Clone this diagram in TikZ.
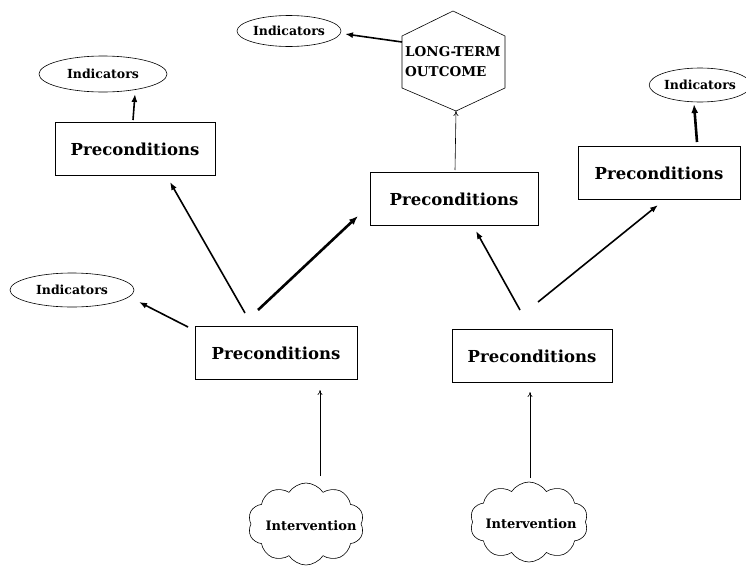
\documentclass[tikz,border=0pt]{standalone}
\usepackage{fontspec}
\setmainfont{DejaVu Serif}
\usetikzlibrary{shapes.geometric,shapes.symbols,arrows.meta}
\begin{document}
\begin{tikzpicture}[x=1pt,y=-1pt,
  pbox/.style={draw,line width=0.8pt,minimum width=#1,minimum height=53pt,font=\fontsize{16.5}{18}\selectfont\bfseries,inner sep=0pt},
  ind/.style={draw,ellipse,line width=0.6pt,font=\fontsize{12.5}{14}\selectfont\bfseries,inner sep=0pt},
  cl/.style={draw,cloud,cloud puffs=10,cloud puff arc=115,line width=0.6pt,inner sep=0pt},
  cltxt/.style={font=\fontsize{13}{15}\selectfont\bfseries,inner sep=0pt},
  arr/.style={-{Latex[length=8pt,width=6pt]},line width=1.6pt},
  thk/.style={-{Latex[length=9pt,width=7pt]},line width=2.6pt},
  thn/.style={-{To[length=5pt,width=5pt]},line width=0.6pt},
]
\useasboundingbox (0,0) rectangle (746,565);
% hexagon
\coordinate (hT) at (453,11);
\coordinate (hTR) at (505,36);
\coordinate (hBR) at (505,88);
\coordinate (hB) at (456,111);
\coordinate (hBL) at (402,88);
\coordinate (hTL) at (402,36);
\draw[line width=0.6pt] (hT) -- (hTR) -- (hBR) -- (hB) -- (hBL) -- (hTL) -- cycle;
\node[font=\fontsize{13.5}{20}\selectfont\bfseries,align=left,anchor=west,inner sep=0pt] (ltxt) at (405,62) {LONG-TERM\\OUTCOME};
% ellipses
\node[ind,minimum width=104pt,minimum height=31pt] (i1) at (289,31) {Indicators};
\node[ind,minimum width=128pt,minimum height=36pt] (i2) at (103,74) {Indicators};
\node[ind,minimum width=124pt,minimum height=34pt] (i3) at (72,290) {Indicators};
\node[ind,minimum width=94pt,minimum height=34pt] (i4) at (700,85) {Indicators};
% boxes
\node[pbox=160pt] (p1) at (135,149) {Preconditions};
\node[pbox=162pt] (p2) at (276,353) {Preconditions};
\node[pbox=168pt] (p3) at (454,199) {Preconditions};
\node[pbox=162pt] (p4) at (659,173) {Preconditions};
\node[pbox=160pt] (p5) at (532,356) {Preconditions};
% clouds
\node[cl,minimum width=116pt,minimum height=82pt] (c1) at (306,524) {};
\node[cltxt] (t1) at (311,526) {Intervention};
\node[cl,minimum width=118pt,minimum height=80pt] (c2) at (529,522) {};
\node[cltxt] (t2) at (531,524) {Intervention};
% coordinates for free ends
\coordinate (a1s) at (402,42); \coordinate (a1e) at (345,34);
\coordinate (a2s) at (133,120); \coordinate (a2e) at (135,94);
\coordinate (a3s) at (188,327); \coordinate (a3e) at (139,302);
\coordinate (a4s) at (245,313); \coordinate (a4e) at (170,182);
\coordinate (a5s) at (258,310); \coordinate (a5e) at (358,216);
\coordinate (a6s) at (455,170); \coordinate (a6e) at (hB);
\coordinate (a7s) at (520,310); \coordinate (a7e) at (476,231);
\coordinate (a8s) at (538,302); \coordinate (a8e) at (658,205);
\coordinate (a9s) at (697,142); \coordinate (a9e) at (694,104);
\coordinate (b1s) at (320,476); \coordinate (b1e) at (320,390);
\coordinate (b2s) at (530,478); \coordinate (b2e) at (530,392);
\draw[arr] (a1s) -- (a1e);
\draw[arr] (a2s) -- (a2e);
\draw[arr] (a3s) -- (a3e);
\draw[arr] (a4s) -- (a4e);
\draw[thk] (a5s) -- (a5e);
\draw[thn] (a6s) -- (a6e);
\draw[arr] (a7s) -- (a7e);
\draw[arr] (a8s) -- (a8e);
\draw[thk] (a9s) -- (a9e);
\draw[thn] (b1s) -- (b1e);
\draw[thn] (b2s) -- (b2e);
\end{tikzpicture}
\end{document}
